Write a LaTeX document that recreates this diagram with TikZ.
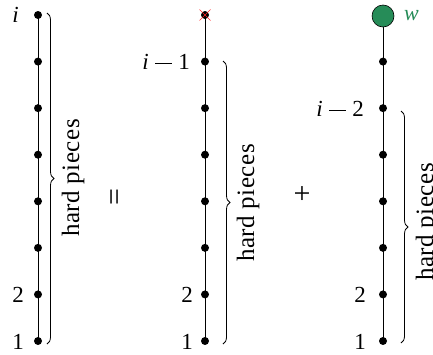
\documentclass[tikz,border=0pt]{standalone}
\usepackage{fontspec}
\setmainfont{Liberation Serif}
\usetikzlibrary{decorations.pathreplacing}
\definecolor{wgreen}{RGB}{38,140,88}
\newcommand{\mi}[1]{\textit{#1}}
\newcommand{\mminus}{\hspace{0.28em}\rule[0.25em]{0.72em}{0.055em}\hspace{0.28em}}
\begin{document}
\begin{tikzpicture}[x=1pt,y=-1pt,
  dot/.style={circle,fill=black,inner sep=0pt,minimum size=8pt},
  lbl/.style={font=\fontsize{23}{27}\selectfont,anchor=east,inner sep=0pt},
  hp/.style={font=\fontsize{25}{29}\selectfont\addfontfeatures{LetterSpace=2},rotate=90,inner sep=0pt},
  sym/.style={font=\fontsize{30}{34}\selectfont,inner sep=0pt},
  bracestyle/.style={decorate,decoration={brace,amplitude=7pt},line width=0.8pt},
  chain/.style={line width=0.8pt,black}]
\useasboundingbox (0,0) rectangle (433,354);
% column 1
\foreach \k in {1,...,8} \node[dot] (a\k) at (38,{15+(\k-1)*46.57}) {};
\draw[chain] (a1.center) -- (a8.center);
% column 2
\foreach \k in {1,...,8} \node[dot] (b\k) at (205,{15+(\k-1)*46.57}) {};
\draw[chain] (b1.center) -- (b8.center);
\draw[red!85,line width=0.5pt] ([shift={(-5.5,-5.5)}]b1.center) -- ([shift={(5.5,5.5)}]b1.center);
\draw[red!85,line width=0.5pt] ([shift={(-5.5,5.5)}]b1.center) -- ([shift={(5.5,-5.5)}]b1.center);
% column 3
\node[circle,fill=wgreen,draw=black,line width=0.6pt,minimum size=22pt,inner sep=0pt] (c1) at (383,16) {};
\foreach \k in {2,...,8} \node[dot] (c\k) at (383,{15+(\k-1)*46.57}) {};
\draw[chain] (c1) -- (c8.center);
% labels
\node[lbl] (li) at (19,15) {\mi{i}};
\node[lbl] (la2) at (24,295) {2};
\node[lbl] (la1) at (24,342) {1};
\node[lbl] (lb) at (190,62) {\mi{i}\mminus 1};
\node[lbl] (lb2) at (193,295) {2};
\node[lbl] (lb1) at (193,342) {1};
\node[lbl] (lc) at (364,109) {\mi{i}\mminus 2};
\node[lbl] (lc2) at (366,295) {2};
\node[lbl] (lc1) at (366,342) {1};
\node[font=\fontsize{22}{26}\selectfont,text=wgreen,anchor=west,inner sep=0pt] (w) at (404,16) {\mi{w}};
% braces
\coordinate (ba1) at (47,13);  \coordinate (ba2) at (47,344);
\coordinate (bb1) at (223,61); \coordinate (bb2) at (223,344);
\coordinate (bc1) at (401,111); \coordinate (bc2) at (401,343);
\draw[bracestyle] (ba1) -- (ba2);
\draw[bracestyle] (bb1) -- (bb2);
\draw[bracestyle] (bc1) -- (bc2);
\node[hp] (ha) at (73,178) {hard pieces};
\node[hp] (hb) at (248,203) {hard pieces};
\node[hp] (hc) at (427,222) {hard pieces};
\node[sym,rotate=90] (eq) at (118,197) {=};
\node[sym] (pl) at (302,195) {+};
\end{tikzpicture}
\end{document}
